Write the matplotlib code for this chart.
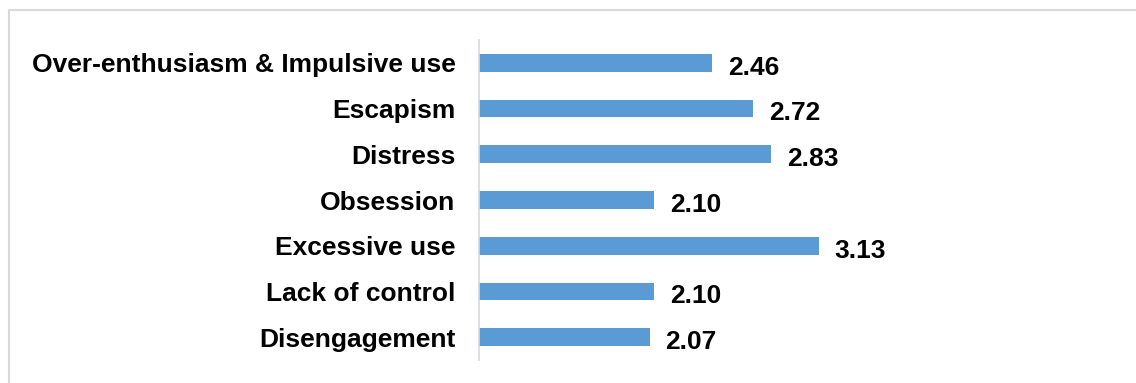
import matplotlib.pyplot as plt
from matplotlib.patches import Rectangle

categories = ['Over-enthusiasm & Impulsive use', 'Escapism', 'Distress', 'Obsession',
              'Excessive use', 'Lack of control', 'Disengagement']
scores = [2.46, 2.72, 2.83, 2.10, 3.13, 2.10, 2.07]

plt.rcParams['font.family'] = ['Liberation Sans', 'DejaVu Sans']

fig = plt.figure(figsize=(11.36, 3.83), dpi=100)
ax = fig.add_axes([479 / 1136, 1 - 360 / 383, (1117 - 479) / 1136, 320 / 383])

# light grey frame like the source slide
fig.patches.append(Rectangle((9 / 1136, -0.1), 1.2, (383 - 10) / 383 + 0.1,
                             transform=fig.transFigure, fill=False,
                             edgecolor='#D9D9D9', linewidth=1.5))

y = list(range(len(categories)))[::-1]
# axis starts at 1, bars are clipped there
ax.barh(y, scores, height=0.39, color='#5B9BD5')
ax.set_xlim(1, 5)
ax.set_ylim(-0.5, 6.5)

for yi, v in zip(y, scores):
    ax.text(v + 0.1, yi - 0.05, f'{v:.2f}', va='center_baseline', ha='left',
            fontsize=19, fontweight='bold', color='black')

ax.set_yticks(y)
ax.set_yticklabels(categories, fontsize=19, fontweight='bold', va='center_baseline')
ax.tick_params(axis='y', length=0, pad=17)
ax.set_xticks([])
for s in ['top', 'right', 'bottom']:
    ax.spines[s].set_visible(False)
ax.spines['left'].set_color('#D9D9D9')
ax.spines['left'].set_linewidth(1.2)

fig.savefig('out.png', dpi=100)
